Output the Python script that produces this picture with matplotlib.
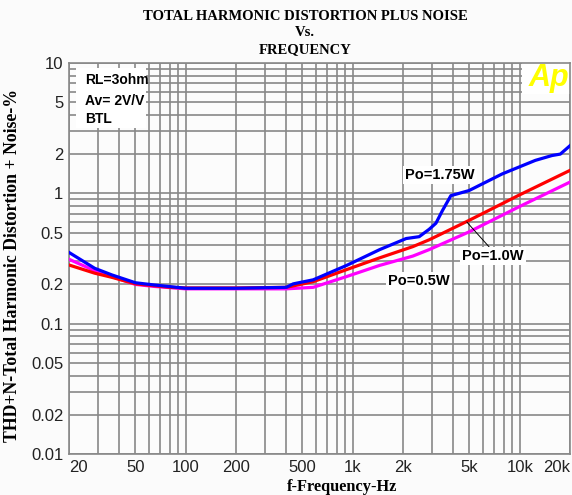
import matplotlib
matplotlib.use("Agg")
import matplotlib.pyplot as plt
from matplotlib.patches import Rectangle
import numpy as np

# ---------------- data ----------------
f_175 = [20, 28.5, 36, 50, 65, 100, 200, 400, 440, 580, 920, 1450, 2090, 2500,
         2870, 3150, 3450, 3870, 4970, 7860, 12400, 15600, 17500, 20000]
thd_175 = [0.352, 0.266, 0.237, 0.206, 0.198, 0.187, 0.187, 0.190, 0.202, 0.217,
           0.28, 0.37, 0.45, 0.465, 0.53, 0.59, 0.74, 0.96, 1.05, 1.41, 1.79,
           1.95, 2.0, 2.32]

f_10 = [20, 28.5, 36, 50, 81, 100, 200, 400, 580, 920, 1450, 2290, 2870, 4970,
        9850, 20000]
thd_10 = [0.282, 0.244, 0.227, 0.202, 0.19, 0.188, 0.188, 0.19, 0.21, 0.26,
          0.32, 0.39, 0.44, 0.62, 0.965, 1.5]

f_05 = [20, 28.5, 36, 50, 65, 100, 200, 400, 580, 920, 1450, 2290, 2870, 4970,
        9850, 20000]
thd_05 = [0.312, 0.255, 0.23, 0.2, 0.193, 0.185, 0.185, 0.185, 0.19, 0.23,
          0.28, 0.33, 0.37, 0.506, 0.786, 1.22]

x_ticks = [20, 50, 100, 200, 500, 1000, 2000, 5000, 10000, 20000]
x_ticklabels = ["20", "50", "100", "200", "500", "1k", "2k", "5k", "10k", "20k"]
y_ticks = [0.01, 0.02, 0.05, 0.1, 0.2, 0.5, 1, 2, 5, 10]
y_ticklabels = ["0.01", "0.02", "0.05", "0.1", "0.2", "0.5", "1", "2", "5", "10"]

# ---------------- figure ----------------
W, H = 572, 495
fig = plt.figure(figsize=(W / 100, H / 100), dpi=100, facecolor="#fbfbfb")
L, R, T, B = 69, 570, 63, 454
ax = fig.add_axes([L / W, 1 - B / H, (R - L) / W, (B - T) / H])
ax.set_facecolor("#fcfcfc")

def px(x, y):
    """pixel position -> axes fraction"""
    return ((x - L) / (R - L), (B - y) / (B - T))

ax.set_xscale("log")
ax.set_yscale("log")
ax.set_xlim(20, 20000)
ax.set_ylim(0.01, 10)

gcol = "#888888"
ax.grid(True, which="both", color=gcol, linewidth=1.2)
ax.set_axisbelow(True)
for s in ax.spines.values():
    s.set_color(gcol)
    s.set_linewidth(1.2)

ax.set_xticks(x_ticks)
ax.set_xticklabels(x_ticklabels)
ax.set_yticks(y_ticks)
ax.set_yticklabels(y_ticklabels)
ax.tick_params(which="both", length=0, labelsize=12, labelcolor="#222222", pad=4)
for lab in ax.get_xticklabels() + ax.get_yticklabels():
    lab.set_fontfamily("Liberation Sans")
xl = ax.get_xticklabels()
xl[0].set_horizontalalignment("left")
xl[-1].set_horizontalalignment("right")

lw = 2.3
ax.plot(f_05, thd_05, color="#ff00ff", lw=lw, zorder=3)
ax.plot(f_10, thd_10, color="#ff0000", lw=lw, zorder=4)
ax.plot(f_175, thd_175, color="#0000ff", lw=lw, zorder=5)

# info box top-left
x0, y0 = px(76, 128)
x1, y1 = px(146, 68)
ax.add_patch(Rectangle((x0, y0), x1 - x0, y1 - y0, transform=ax.transAxes,
                       facecolor="white", edgecolor="none", zorder=2))
for txt, yy in [("RL=3ohm", 80), ("Av= 2V/V", 101), ("BTL", 119)]:
    ax.text(*px(85, yy), txt, transform=ax.transAxes, fontsize=10,
            fontweight="bold", family="Liberation Sans", va="center",
            ha="left", zorder=6)

# Ap logo
x0, y0 = px(522, 94)
x1, y1 = px(570, 63)
ax.add_patch(Rectangle((x0, y0), x1 - x0, y1 - y0, transform=ax.transAxes,
                       facecolor="white", edgecolor="none", zorder=2))
ax.text(*px(549, 78), "Ap", transform=ax.transAxes, fontsize=22,
        fontweight="bold", style="italic", family="Liberation Sans",
        color="#ffff00", va="center", ha="center", zorder=6)

# curve labels
bb = dict(facecolor="white", edgecolor="none", pad=1.5)
lab_kw = dict(transform=ax.transAxes, fontsize=10.5, fontweight="bold",
              family="Liberation Sans", va="center", ha="center", zorder=7,
              bbox=bb)
ax.text(*px(440, 175), "Po=1.75W", **lab_kw)
ax.text(*px(419, 281), "Po=0.5W", **lab_kw)
ax.annotate("", xy=px(465, 220), xycoords="axes fraction",
            xytext=px(491, 249), textcoords="axes fraction",
            arrowprops=dict(arrowstyle="-", color="black", lw=0.7), zorder=6)
ax.text(*px(493, 256), "Po=1.0W", **lab_kw)

# titles
tkw = dict(family="Liberation Serif", fontweight="bold", ha="center",
           va="center", fontsize=10.5)
fig.text(305 / W, 1 - 16 / H, "TOTAL HARMONIC DISTORTION PLUS NOISE", **tkw)
fig.text(305 / W, 1 - 33 / H, "Vs.", **tkw)
fig.text(305 / W, 1 - 50 / H, "FREQUENCY", **tkw)

fig.text(342 / W, 1 - 487 / H, "f-Frequency-Hz", family="Liberation Serif",
         fontweight="bold", fontsize=11.8, ha="center", va="center")
fig.text(13 / W, 1 - 265 / H, "THD+N-Total Harmonic Distortion + Noise-%",
         family="Liberation Serif", fontweight="bold", fontsize=12.8,
         rotation=90, ha="center", va="center")

fig.savefig("out.png", dpi=100, facecolor=fig.get_facecolor())
